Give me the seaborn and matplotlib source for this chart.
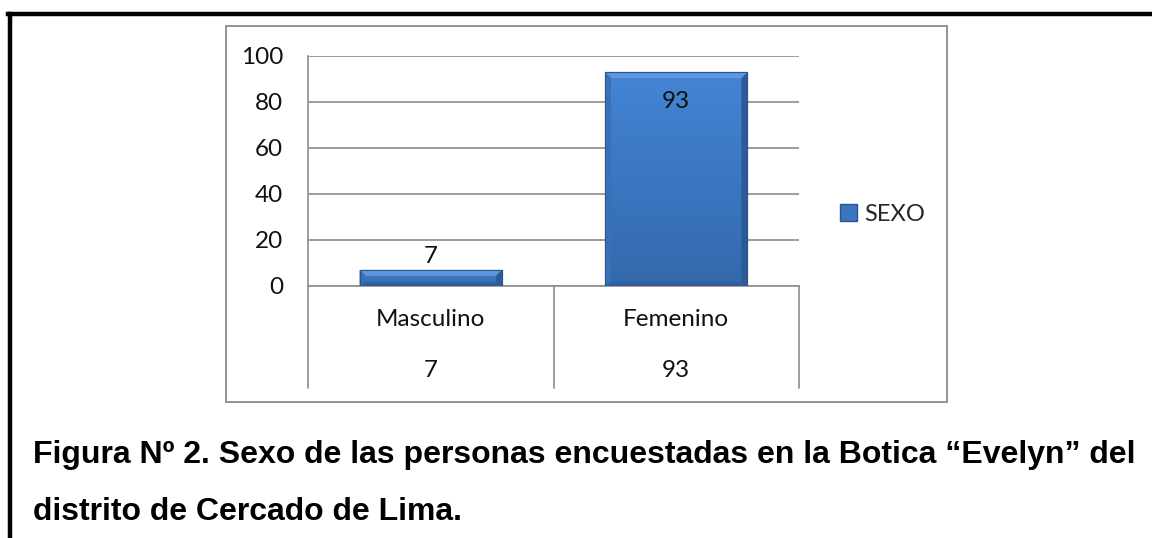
import numpy as np
import pandas as pd
import matplotlib
matplotlib.use("Agg")
import matplotlib.pyplot as plt
import seaborn as sns
from matplotlib.patches import Patch, Rectangle, Polygon
from matplotlib.lines import Line2D
import matplotlib.transforms as mtransforms
from matplotlib.colors import LinearSegmentedColormap

categories = ["Masculino", "Femenino"]
values = [7, 93]
series_name = "SEXO"
yticks = [0, 20, 40, 60, 80, 100]
caption_lines = ["Figura Nº 2. Sexo de las personas encuestadas en la Botica “Evelyn” del",
                 "distrito de Cercado de Lima."]

sns.set_theme(style="white")
plt.rcParams['font.family'] = ['Lato', 'DejaVu Sans']

W, H = 1152, 538
fig = plt.figure(figsize=(W / 100, H / 100), dpi=100)

def fx(px):
    return px / W

def fy(py):
    return 1 - py / H

# page border
fig.add_artist(Line2D([fx(8), 1.0], [fy(14), fy(14)], color="black", lw=3.2, solid_capstyle="projecting"))
fig.add_artist(Line2D([fx(10), fx(10)], [fy(14), 0.0], color="black", lw=3.2, solid_capstyle="projecting"))

# chart box
fig.add_artist(Rectangle((fx(226), fy(402)), fx(947) - fx(226), fy(26) - fy(402),
                         fill=False, edgecolor="#8a8a8a", lw=1.3))

ax = fig.add_axes([fx(308), fy(286), fx(799) - fx(308), fy(56) - fy(286)])
df = pd.DataFrame({"cat": categories, "val": values})
bar_color = "#3b74bf"
sns.barplot(data=df, x="cat", y="val", ax=ax, color=bar_color, width=0.58,
            edgecolor="#2a5690", linewidth=0.8, saturation=1, zorder=3)

ax.set_xlim(-0.5, 1.5)
ax.set_ylim(0, 100)

# gradient + bevel overlay on bars
cmap = LinearSegmentedColormap.from_list("g", ["#4485d4", "#3e7bc7", "#3872bb", "#3468ab"])
grad = np.linspace(0, 1, 256).reshape(-1, 1)
bx = 6 / 245.5          # bevel width in data units (x)
by = 6 / 2.3            # bevel height in data units (y)
for p in ax.patches:
    x0, y0 = p.get_x(), p.get_y()
    w, h = p.get_width(), p.get_height()
    x1, y1 = x0 + w, y0 + h
    im = ax.imshow(grad, cmap=cmap, aspect="auto", extent=[x0, x1, y0, y1],
                   zorder=3.5, interpolation="bicubic")
    im.set_clip_path(p)
    byy = min(by, h / 2.5)
    ax.add_patch(Polygon([[x0, y1], [x1, y1], [x1 - bx, y1 - byy], [x0 + bx, y1 - byy]],
                         closed=True, facecolor="#5c97e0", edgecolor="none", zorder=3.7))
    ax.add_patch(Polygon([[x0, y0], [x0, y1], [x0 + bx, y1 - byy], [x0 + bx, y0 + byy * 0.6]],
                         closed=True, facecolor="#3a70b6", edgecolor="none", zorder=3.7))
    ax.add_patch(Polygon([[x1, y0], [x1, y1], [x1 - bx, y1 - byy], [x1 - bx, y0 + byy * 0.6]],
                         closed=True, facecolor="#2c5a98", edgecolor="none", zorder=3.7))
    ax.add_patch(Polygon([[x0, y0], [x1, y0], [x1 - bx, y0 + byy * 0.6], [x0 + bx, y0 + byy * 0.6]],
                         closed=True, facecolor="#2f5e9c", edgecolor="none", zorder=3.7))
    ax.add_patch(Rectangle((x0, y0), w, h, fill=False, edgecolor="#2a5690", lw=0.8, zorder=3.8))

ax.set_yticks(yticks)
ax.set_yticklabels([str(t) for t in yticks], fontsize=17.5, color="#111111")
ax.tick_params(axis="y", length=0, pad=18)
ax.set_xticks([])
ax.set_xlabel("")
ax.set_ylabel("")
ax.grid(axis="y", color="#8c8c8c", lw=1.2, zorder=0)
for s in ["top", "right"]:
    ax.spines[s].set_visible(False)
for s in ["left", "bottom"]:
    ax.spines[s].set_color("#8c8c8c")
    ax.spines[s].set_linewidth(1.2)

# value labels
for i, v in enumerate(values):
    if v > 50:
        ax.annotate(str(v), (i, v), xytext=(0, -21), textcoords="offset points",
                    ha="center", va="center", fontsize=17.5, color="#111111", zorder=5)
    else:
        ax.annotate(str(v), (i, v), xytext=(0, 9.5), textcoords="offset points",
                    ha="center", va="center", fontsize=17.5, color="#111111", zorder=5)

# data table below
trans = mtransforms.blended_transform_factory(ax.transData, ax.transAxes)
bottom = -(388 - 286) / 230
for xb in [-0.5, 0.5, 1.5]:
    ax.plot([xb, xb], [0, bottom], transform=trans, color="#8c8c8c", lw=1.2, clip_on=False)
for i, (c, v) in enumerate(zip(categories, values)):
    ax.text(i, -(320 - 286) / 230, c, transform=trans, ha="center", va="center",
            fontsize=17.5, color="#111111")
    ax.text(i, -(370 - 286) / 230, str(v), transform=trans, ha="center", va="center",
            fontsize=17.5, color="#111111")

# legend
fig.legend(handles=[Patch(facecolor=bar_color, edgecolor="#2a5690", label=series_name)],
           loc="center left", bbox_to_anchor=(fx(819), fy(214)), frameon=False,
           handlelength=0.7, handleheight=0.7, handletextpad=0.3, fontsize=17)

# caption
fig.text(fx(33), fy(455), caption_lines[0], fontsize=23, fontweight="bold",
         family=["Liberation Sans", "DejaVu Sans"], va="center", ha="left", color="black")
fig.text(fx(33), fy(512), caption_lines[1], fontsize=23, fontweight="bold",
         family=["Liberation Sans", "DejaVu Sans"], va="center", ha="left", color="black")

fig.savefig("out.png", dpi=100, facecolor="white")
